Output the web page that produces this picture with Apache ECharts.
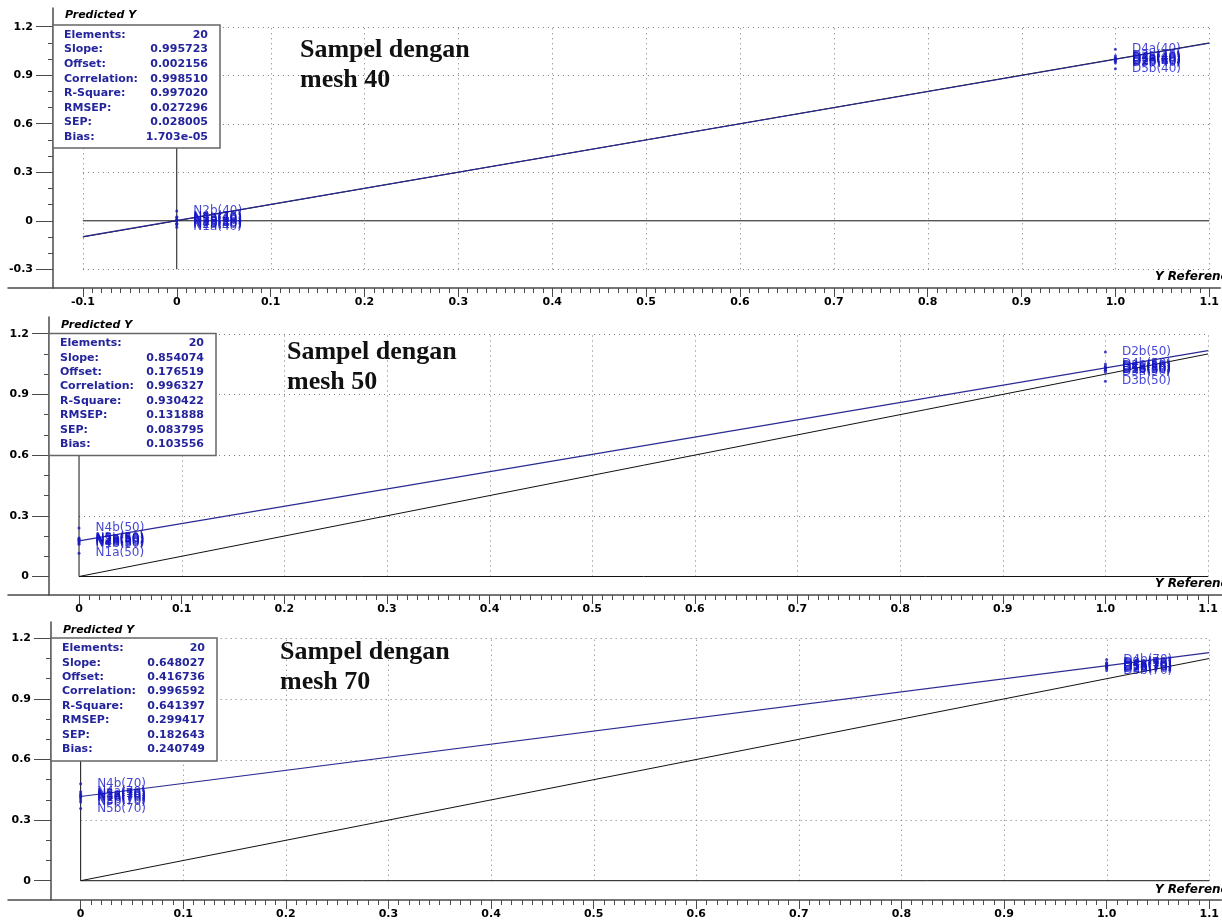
<!DOCTYPE html>
<html><head><meta charset="utf-8">
<script src="https://cdn.jsdelivr.net/npm/echarts@6/dist/echarts.min.js"></script>
<style>html,body{margin:0;padding:0;background:#fff}#c{width:1222px;height:920px}</style>
</head><body><div id="c"></div>
<script>
// ---------------- DATA ----------------
const MESH = ['40', '50', '70'];
const N_CODES = ['N1a','N1b','N2a','N2b','N3a','N3b','N4a','N4b','N5a','N5b'];
const D_CODES = ['D1a','D1b','D2a','D2b','D3a','D3b','D4a','D4b','D5a','D5b'];
const REF_N = 0;
const REF_D = 1;
const PRED_N_40 = [-0.040, 0.010, -0.025, 0.060, 0.005, -0.015, 0.025, -0.020, 0.020, 0.000];
const PRED_D_40 = [1.000, 0.990, 1.010, 0.985, 1.020, 0.975, 1.060, 1.005, 0.995, 0.940];
const PRED_N_50 = [0.115, 0.160, 0.180, 0.170, 0.190, 0.175, 0.165, 0.240, 0.185, 0.185];
const PRED_D_50 = [1.030, 1.020, 1.040, 1.110, 1.010, 0.965, 1.035, 1.050, 1.025, 1.020];
const PRED_N_70 = [0.420, 0.410, 0.430, 0.400, 0.415, 0.390, 0.440, 0.480, 0.425, 0.357];
const PRED_D_70 = [1.070, 1.060, 1.080, 1.050, 1.065, 1.040, 1.075, 1.095, 1.060, 1.053];

const STAT_LABELS = ['Elements:', 'Slope:', 'Offset:', 'Correlation:', 'R-Square:', 'RMSEP:', 'SEP:', 'Bias:'];
const STATS_40 = ['20', '0.995723', '0.002156', '0.998510', '0.997020', '0.027296', '0.028005', '1.703e-05'];
const STATS_50 = ['20', '0.854074', '0.176519', '0.996327', '0.930422', '0.131888', '0.083795', '0.103556'];
const STATS_70 = ['20', '0.648027', '0.416736', '0.996592', '0.641397', '0.299417', '0.182643', '0.240749'];

const X_TICKS_40 = [-0.1, 0, 0.1, 0.2, 0.3, 0.4, 0.5, 0.6, 0.7, 0.8, 0.9, 1.0, 1.1];
const X_TICKS_50 = [0, 0.1, 0.2, 0.3, 0.4, 0.5, 0.6, 0.7, 0.8, 0.9, 1.0, 1.1];
const X_TICKS_70 = [0, 0.1, 0.2, 0.3, 0.4, 0.5, 0.6, 0.7, 0.8, 0.9, 1.0, 1.1];
const Y_TICKS_40 = [-0.3, 0, 0.3, 0.6, 0.9, 1.2];
const Y_TICKS_50 = [0, 0.3, 0.6, 0.9, 1.2];
const Y_TICKS_70 = [0, 0.3, 0.6, 0.9, 1.2];
const Y_MINOR_40 = [-0.3, -0.2, -0.1, 0, 0.1, 0.2, 0.3, 0.4, 0.5, 0.6, 0.7, 0.8, 0.9, 1.0, 1.1, 1.2];
const Y_MINOR_50 = [0, 0.1, 0.2, 0.3, 0.4, 0.5, 0.6, 0.7, 0.8, 0.9, 1.0, 1.1, 1.2];
const Y_MINOR_70 = [0, 0.1, 0.2, 0.3, 0.4, 0.5, 0.6, 0.7, 0.8, 0.9, 1.0, 1.1, 1.2];

const X_AXIS_NAME = 'Y Reference';
const Y_AXIS_NAME = 'Predicted Y';
const PANEL_TITLE_PREFIX = 'Sampel dengan\nmesh ';

// ---------------- LAYOUT ----------------
const LAYOUT = [
  {top: 8, bottom: 632, xMin: -0.1798, xMax: 1.1117, yMin: -0.4156, yMax: 1.3156, yOffset: -45,
   box: [53, 25, 167, 123], rowTop: 10, rowStep: 14.57, pred: [65, 15], title: [300, 35], ref: [1155, 277]},
  {top: 317, bottom: 325, xMin: -0.0692, xMax: 1.1136, yMin: -0.0914, yMax: 1.2826, yOffset: -41,
   box: [49, 333.5, 167, 122], rowTop: 9.8, rowStep: 14.43, pred: [61, 325], title: [287, 337], ref: [1155, 584]},
  {top: 622, bottom: 20, xMin: -0.0708, xMax: 1.1117, yMin: -0.0955, yMax: 1.2807, yOffset: -43,
   box: [51, 638, 166, 123], rowTop: 10.3, rowStep: 14.43, pred: [63, 630], title: [280, 637], ref: [1155, 890]}
];

const PANELS = [
  {mesh: MESH[0], n: PRED_N_40, d: PRED_D_40, stats: STATS_40, xt: X_TICKS_40, yt: Y_TICKS_40, ym: Y_MINOR_40},
  {mesh: MESH[1], n: PRED_N_50, d: PRED_D_50, stats: STATS_50, xt: X_TICKS_50, yt: Y_TICKS_50, ym: Y_MINOR_50},
  {mesh: MESH[2], n: PRED_N_70, d: PRED_D_70, stats: STATS_70, xt: X_TICKS_70, yt: Y_TICKS_70, ym: Y_MINOR_70}
];

const AXIS_COLOR = '#4a4a4a';
const TICK_FONT = 'DejaVu Sans';
const fmt = v => (Math.abs(v) < 1e-9 ? '0' : v.toFixed(1));
function minorTicks(lo, hi) {
  const out = [];
  for (let i = Math.round(lo * 100); i <= Math.round(hi * 100); i++) out.push(i / 100);
  return out;
}

const grid = [], xAxis = [], yAxis = [], series = [], graphic = [];

PANELS.forEach((P, k) => {
  const L = LAYOUT[k];
  grid.push({left: 8, right: 0, top: L.top, bottom: L.bottom, containLabel: false});
  const xLo = P.xt[0], xHi = P.xt[P.xt.length - 1];
  const yLo = P.yt[0], yHi = P.yt[P.yt.length - 1];
  xAxis.push({
    type: 'value', gridIndex: k, min: L.xMin, max: L.xMax, position: 'bottom',
    axisLine: {show: true, onZero: false, lineStyle: {color: AXIS_COLOR, width: 1.5}},
    axisTick: {show: true, customValues: P.xt, length: 9, lineStyle: {color: AXIS_COLOR, width: 1}},
    axisLabel: {show: true, customValues: P.xt, formatter: fmt, margin: 9, color: '#000',
      fontFamily: TICK_FONT, fontWeight: 'bold', fontSize: 11},
    splitLine: {show: false}
  });
  xAxis.push({
    type: 'value', gridIndex: k, min: L.xMin, max: L.xMax, position: 'bottom',
    axisLine: {show: false, onZero: false},
    axisTick: {show: true, customValues: minorTicks(xLo, xHi), length: 5, lineStyle: {color: AXIS_COLOR, width: 1}},
    axisLabel: {show: false},
    splitLine: {show: false}
  });
  yAxis.push({
    type: 'value', gridIndex: k, min: L.yMin, max: L.yMax, position: 'left', offset: L.yOffset,
    axisLine: {show: true, onZero: false, lineStyle: {color: AXIS_COLOR, width: 1.5}},
    axisTick: {show: true, customValues: P.yt, length: 17, lineStyle: {color: AXIS_COLOR, width: 1}},
    axisLabel: {show: true, customValues: P.yt, formatter: fmt, margin: 20, color: '#000',
      fontFamily: TICK_FONT, fontWeight: 'bold', fontSize: 11},
    splitLine: {show: false}
  });
  yAxis.push({
    type: 'value', gridIndex: k, min: L.yMin, max: L.yMax, position: 'left', offset: L.yOffset,
    axisLine: {show: false, onZero: false},
    axisTick: {show: true, customValues: P.ym, length: 5, lineStyle: {color: AXIS_COLOR, width: 1}},
    axisLabel: {show: false},
    splitLine: {show: false}
  });
  const xi = 2 * k, yi = 2 * k;

  series.push({
    type: 'custom', xAxisIndex: xi, yAxisIndex: yi, silent: true, z: 1,
    data: P.xt.filter(v => Math.abs(v) > 1e-9).map(v => [v, yLo]),
    renderItem: (params, api) => {
      const v = api.value(0);
      const a = api.coord([v, yLo]), b = api.coord([v, yHi]);
      const x = Math.round(a[0]) + 0.5;
      return {type: 'line', shape: {x1: x, y1: a[1], x2: x, y2: b[1]},
        style: {stroke: '#777', lineWidth: 1, lineDash: [1, 4]}};
    }
  });
  series.push({
    type: 'custom', xAxisIndex: xi, yAxisIndex: yi, silent: true, z: 1,
    data: P.yt.filter(v => Math.abs(v) > 1e-9).map(v => [xLo, v]),
    renderItem: (params, api) => {
      const v = api.value(1);
      const a = api.coord([xLo, v]), b = api.coord([xHi, v]);
      const y = Math.round(a[1]) + 0.5;
      return {type: 'line', shape: {x1: a[0], y1: y, x2: b[0], y2: y},
        style: {stroke: '#777', lineWidth: 1, lineDash: [1, 4]}};
    }
  });
  series.push({type: 'line', xAxisIndex: xi, yAxisIndex: yi, silent: true, symbol: 'none', z: 2,
    data: [[xLo, 0], [xHi, 0]], lineStyle: {color: '#111', width: 1}, animation: false});
  series.push({type: 'line', xAxisIndex: xi, yAxisIndex: yi, silent: true, symbol: 'none', z: 2,
    data: [[0, yLo], [0, yHi]], lineStyle: {color: '#111', width: 1}, animation: false});
  series.push({type: 'line', xAxisIndex: xi, yAxisIndex: yi, silent: true, symbol: 'none', z: 3,
    data: [[xLo, xLo], [xHi, xHi]], lineStyle: {color: '#111', width: 1}, animation: false});
  const slope = parseFloat(P.stats[1]), offset = parseFloat(P.stats[2]);
  series.push({type: 'line', xAxisIndex: xi, yAxisIndex: yi, silent: true, symbol: 'none', z: 4,
    data: [[xLo, slope * xLo + offset], [xHi, slope * xHi + offset]],
    lineStyle: {color: '#2a2a94', width: 1.2}, animation: false});
  const pts = [];
  P.n.forEach((v, i) => pts.push({name: N_CODES[i] + '(' + P.mesh + ')', value: [REF_N, v]}));
  P.d.forEach((v, i) => pts.push({name: D_CODES[i] + '(' + P.mesh + ')', value: [REF_D, v]}));
  series.push({type: 'scatter', xAxisIndex: xi, yAxisIndex: yi, z: 5, symbol: 'circle', symbolSize: 3,
    itemStyle: {color: '#1a1ab8'}, data: pts, animation: false,
    label: {show: true, position: 'right', distance: 15, formatter: '{b}', color: '#1414c8',
      fontFamily: 'DejaVu Sans', fontSize: 12}});

  const [bx, by, bw, bh] = L.box;
  graphic.push({type: 'rect', z: 100, shape: {x: bx, y: by, width: bw, height: bh},
    style: {fill: '#fff', stroke: '#666', lineWidth: 1.5}});
  STAT_LABELS.forEach((lab, i) => {
    const yy = by + L.rowTop + i * L.rowStep;
    graphic.push({type: 'text', z: 101, x: bx + 11, y: yy,
      style: {text: lab, fill: '#24249c', font: 'bold 11px "DejaVu Sans"', align: 'left', verticalAlign: 'middle'}});
    graphic.push({type: 'text', z: 101, x: bx + bw - 12, y: yy,
      style: {text: P.stats[i], fill: '#24249c', font: 'bold 11px "DejaVu Sans"', align: 'right', verticalAlign: 'middle'}});
  });
  graphic.push({type: 'text', z: 101, x: L.pred[0], y: L.pred[1],
    style: {text: Y_AXIS_NAME, fill: '#000', font: 'italic bold 11px "DejaVu Sans"', align: 'left', verticalAlign: 'middle'}});
  graphic.push({type: 'text', z: 101, x: L.ref[0], y: L.ref[1],
    style: {text: X_AXIS_NAME, fill: '#000', font: 'italic bold 12px "DejaVu Sans"', align: 'left', verticalAlign: 'middle'}});
  graphic.push({type: 'text', z: 101, x: L.title[0], y: L.title[1],
    style: {text: PANEL_TITLE_PREFIX + P.mesh, fill: '#111', font: 'bold 26px "Liberation Serif"',
      lineHeight: 30, align: 'left', verticalAlign: 'top'}});
});

const chart = echarts.init(document.getElementById('c'), null, {renderer: 'canvas', width: 1222, height: 920});
chart.setOption({
  backgroundColor: '#fff',
  animation: false,
  grid, xAxis, yAxis, series, graphic
});
</script>
</body></html>
